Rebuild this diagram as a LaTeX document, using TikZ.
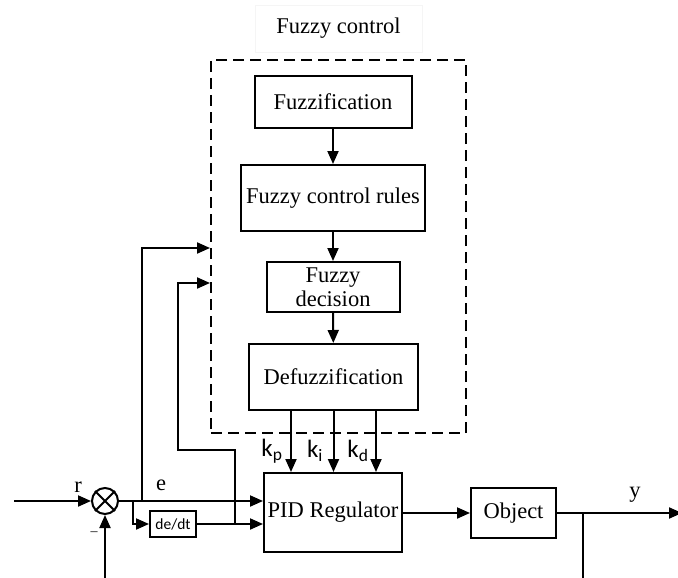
\documentclass[tikz,border=0pt]{standalone}
\usepackage{fontspec}
\setmainfont{Liberation Serif}
\newfontfamily\labelsans{Carlito}
\usetikzlibrary{arrows.meta,positioning,calc}

\tikzset{
  blk/.style={draw, line width=2pt, inner sep=2pt, align=center,
    font=\fontsize{22.5}{23.5}\selectfont},
  wire/.style={line width=2pt},
  flow/.style={wire, -{Triangle[length=13pt,width=11pt]}},
  sig/.style={font=\fontsize{22.5}{24}\selectfont, inner sep=0pt},
  gain/.style={font=\labelsans\fontsize{25}{27}\selectfont, inner sep=0pt},
}

\begin{document}
\begin{tikzpicture}[x=1pt,y=-1pt]
\useasboundingbox (0,0) rectangle (678,578);

% title of the fuzzy part
\node[draw=black!4, line width=0.8pt, minimum width=167, minimum height=47,
      font=\fontsize{22.5}{24}\selectfont] (title) at (338.5,28.5) {Fuzzy control};

% dashed frame around the fuzzy controller
\node[draw, dashed, dash pattern=on 11pt off 6pt, line width=2pt,
      minimum width=255, minimum height=373, inner sep=0pt] (fc) at (338.5,246.5) {};

% fuzzy controller stages
\node[blk, minimum width=157, minimum height=51] (fz) at (333,102) {Fuzzification};
\node[blk, minimum width=184, minimum height=66] (rules) at (333,198) {Fuzzy control rules};
\node[blk, minimum width=133, minimum height=50] (dec) at (333,287) {Fuzzy\\decision};
\node[blk, minimum width=169, minimum height=66] (def) at (333.5,377) {Defuzzification};

% plant loop
\node[blk, minimum width=138, minimum height=79] (pid) at (333,512.5) {PID Regulator};
\node[blk, minimum width=85, minimum height=50] (obj) at (513.5,513) {Object};
\node[draw, circle, line width=2pt, minimum size=26, inner sep=0pt] (sum) at (105,501) {};
\draw[wire] (sum.north west) -- (sum.south east) (sum.north east) -- (sum.south west);
\node[draw, line width=2pt, minimum width=46, minimum height=26, inner sep=1pt,
      font=\labelsans\fontsize{15.5}{17}\selectfont] (ddt) at (173,524) {de/dt};

% free ends and corner points
\coordinate (rin) at (14,501);
\coordinate (fbin) at (105,580);
\coordinate (yout) at (682,513);
\coordinate (ytap) at (583,513);
\coordinate (ytapend) at (583,580);
\coordinate (esplit) at (133,501);
\coordinate (etap) at (142,501);
\coordinate (dtap) at (235,524);

% flow inside the fuzzy controller
\draw[flow] (fz) -- (rules);
\draw[flow] (rules) -- (dec);
\draw[flow] (dec) -- (def);

% gains from the defuzzifier to the PID regulator
\draw[flow] ([xshift=-42.5pt]def.south) -- ([xshift=-42.5pt]def.south |- pid.north);
\draw[flow] (def.south) -- (def.south |- pid.north);
\draw[flow] ([xshift=42.5pt]def.south) -- ([xshift=42.5pt]def.south |- pid.north);
\node[gain] at (272,451) {k\textsubscript{p}};
\node[gain] at (315,451) {k\textsubscript{i}};
\node[gain] at (358,451) {k\textsubscript{d}};

% error and its derivative
\draw[flow] (rin) -- (sum.west);
\draw[flow] (sum.east) -- (pid.west |- sum.east);
\draw[flow] (esplit) |- (ddt.west);
\draw[flow] (ddt.east) -- (pid.west |- ddt.east);
\draw[flow] (etap) -- (142,248) -- (fc.west |- 0,248);
\draw[flow] (dtap) -- (235,450) -- (178,450) -- (178,283) -- (fc.west |- 0,283);

% output and feedback
\draw[flow] (pid.east |- obj.west) -- (obj.west);
\draw[flow] (obj.east) -- (yout);
\draw[wire] (ytap) -- (ytapend);
\draw[flow] (fbin) -- (sum.south);

% signal names
\node[sig] at (78,487) {r};
\node[sig] at (161,485) {e};
\node[sig] at (635,495) {y};
\node[font=\fontsize{14}{16}\selectfont, inner sep=0pt] at (94,534) {--};
\end{tikzpicture}
\end{document}
